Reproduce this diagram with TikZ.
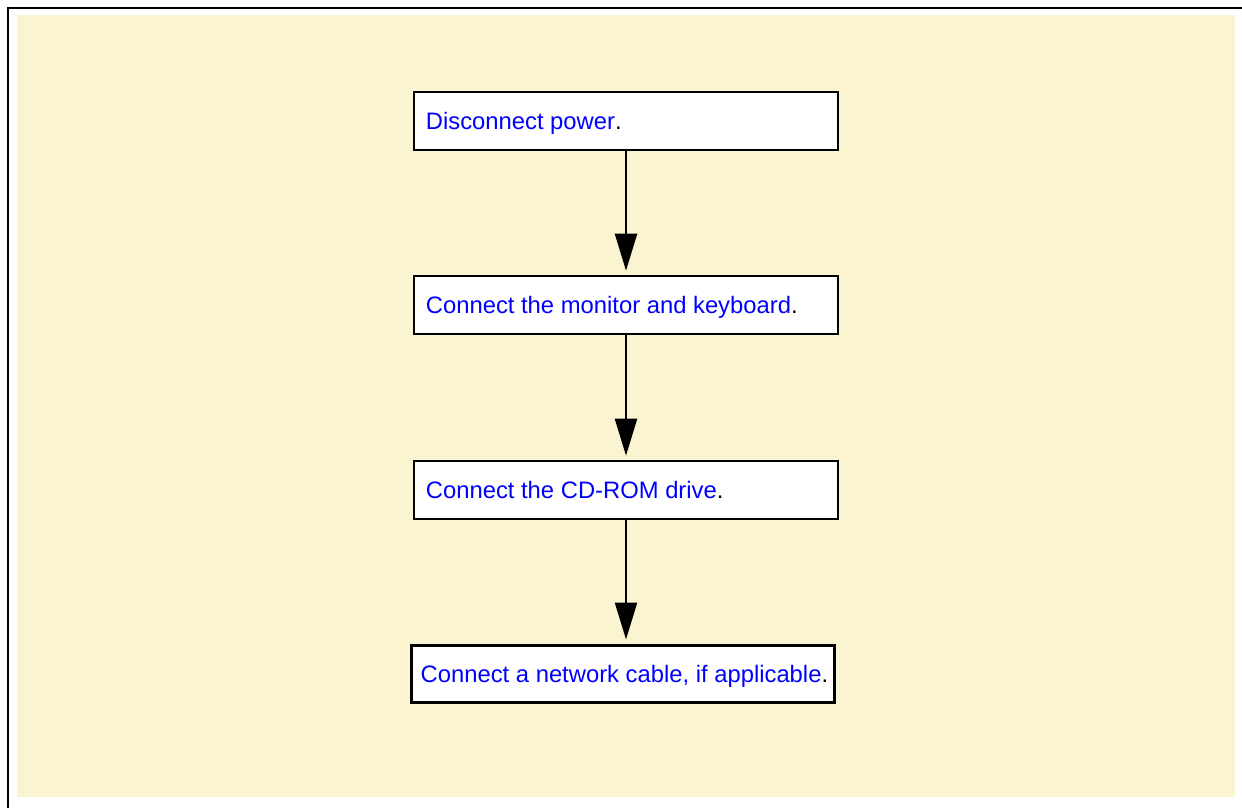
\documentclass[tikz,border=0pt]{standalone}
\usepackage{fontspec}
\setmainfont{Liberation Sans}
\usetikzlibrary{arrows.meta}
\definecolor{bgyellow}{RGB}{250,245,208}
\definecolor{txtblue}{RGB}{0,0,255}
\tikzset{
  stepbox/.style={draw=black, fill=white, line width=2.6pt, inner sep=0pt},
  steplabel/.style={anchor=base west, inner sep=0pt, font=\fontsize{23.8}{28}\selectfont, text=txtblue},
  flowarrow/.style={line width=2.4pt, -{Triangle[width=22pt,length=37pt]}, shorten >=4pt},
}
\begin{document}
\begin{tikzpicture}[x=1pt,y=-1pt]
\useasboundingbox (0,0) rectangle (1242,808);
% frame
\fill[bgyellow] (17,15) rectangle (1235,797);
\draw[line width=2.4pt] (8,808) -- (8,8) -- (1242,8);
% boxes
\node[stepbox, minimum width=424pt, minimum height=58pt] (b1) at (626,121) {};
\node[stepbox, minimum width=424pt, minimum height=58pt] (b2) at (626,305) {};
\node[stepbox, minimum width=424pt, minimum height=58pt] (b3) at (626,490) {};
\node[stepbox, line width=3pt, minimum width=423pt, minimum height=57pt] (b4) at (622.5,673.5) {};
% labels
\node[steplabel] (t1) at ([xshift=13pt,yshift=-8.5pt]b1.west) {Disconnect power\textcolor{black}{.}};
\node[steplabel] (t2) at ([xshift=13pt,yshift=-8.5pt]b2.west) {Connect the monitor and keyboard\textcolor{black}{.}};
\node[steplabel] (t3) at ([xshift=13pt,yshift=-8.5pt]b3.west) {Connect the CD-ROM drive\textcolor{black}{.}};
\node[steplabel] (t4) at ([xshift=11pt,yshift=-8.5pt]b4.west) {Connect a network cable, if applicable\textcolor{black}{.}};
% arrows
\draw[flowarrow] (b1.south) -- (b2.north);
\draw[flowarrow] (b2.south) -- (b3.north);
\draw[flowarrow] (b3.south) -- (b3.south |- b4.north);
\end{tikzpicture}
\end{document}
